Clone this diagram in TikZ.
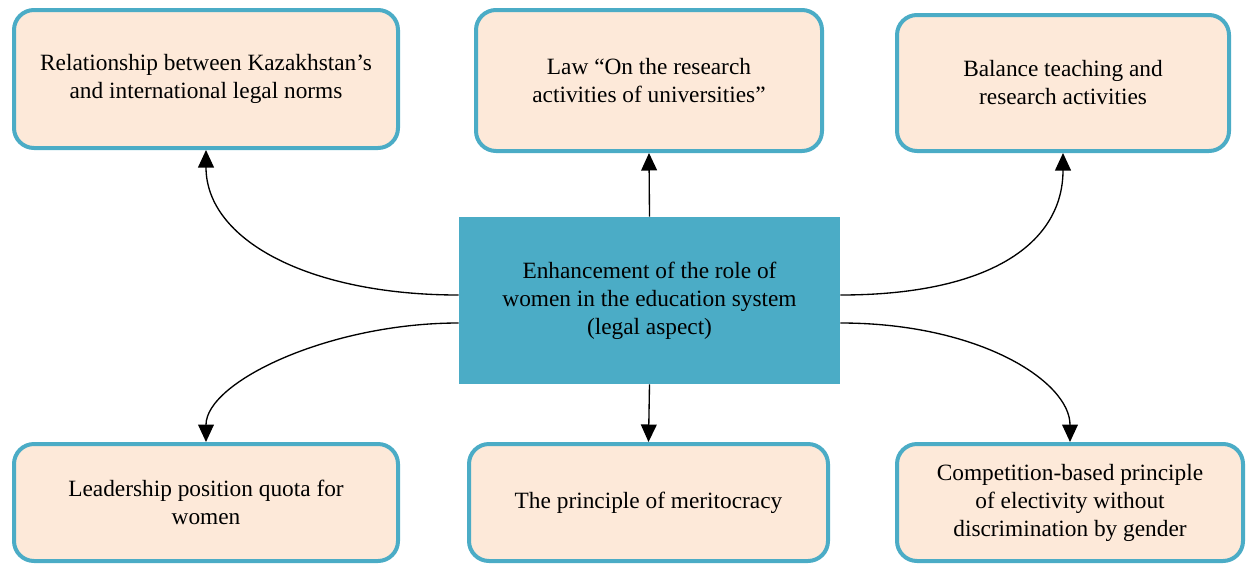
\documentclass[tikz,border=0pt]{standalone}
\usepackage{fontspec}
\setmainfont{Liberation Serif}
\usetikzlibrary{arrows.meta}

\definecolor{boxline}{HTML}{4BACC6}
\definecolor{boxfill}{HTML}{FDE9D9}

\tikzset{
  idea/.style={draw=boxline, line width=2.4pt, fill=boxfill, rounded corners=12pt,
    align=center, inner sep=0pt, font=\fontsize{14}{16.8}\selectfont},
  hub/.style={fill=boxline, align=center, inner sep=0pt,
    font=\fontsize{14}{16.8}\selectfont},
  link/.style={line width=0.8pt, -{Triangle[length=10.5pt,width=9.5pt]}}
}

\begin{document}
\begin{tikzpicture}[x=0.6pt,y=0.6pt,yscale=-1,xscale=1]
\useasboundingbox (0,0) rectangle (1247,564);

% Central node
\node [hub, minimum width=228.6pt, minimum height=100.2pt] (role) at (649.5,300.5)
  {Enhancement of the role of\\women in the education system\\(legal aspect)};

% Top row
\node [idea, minimum width=230.4pt, minimum height=82.8pt] (norms) at (206,79)
  {Relationship between Kazakhstan’s\\and international legal norms};
\node [idea, minimum width=207.6pt, minimum height=84.6pt] (law) at (649,80.5)
  {Law “On the research\\activities of universities”};
\node [idea, minimum width=199.2pt, minimum height=81.6pt] (balance) at (1063,83)
  {Balance teaching and\\research activities};

% Bottom row
\node [idea, minimum width=230.4pt, minimum height=70.2pt] (quota) at (206,502.5)
  {Leadership position quota for\\women};
\node [idea, minimum width=215.4pt, minimum height=70.2pt] (merit) at (648.5,502.5)
  {The principle of meritocracy};
\node [idea, minimum width=207.6pt, minimum height=70.2pt] (elect) at (1070,502.5)
  {Competition-based principle\\of electivity without\\discrimination by gender};

% Connectors
\draw [link] ([yshift=-3.3pt]role.west) .. controls +(-150,0) and +(0,90) .. (norms.south);
\draw [link] (role.north) -- (law.south);
\draw [link] ([yshift=-3.3pt]role.east) .. controls +(150,0) and +(0,90) .. (balance.south);
\draw [link] ([yshift=13.5pt]role.west) .. controls +(-130,0) and +(0,-60) .. (quota.north);
\draw [link] (role.south) -- (merit.north);
\draw [link] ([yshift=13.5pt]role.east) .. controls +(140,0) and +(0,-60) .. (elect.north);

\end{tikzpicture}
\end{document}
